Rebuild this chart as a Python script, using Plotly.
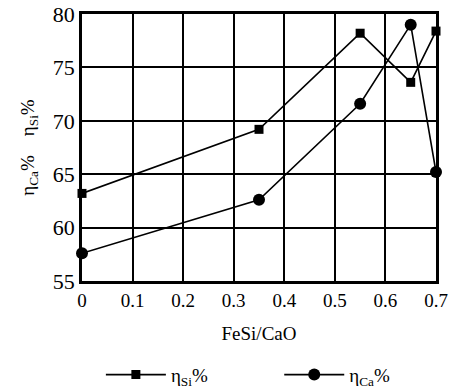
import plotly.graph_objects as go

x_si = [0, 0.35, 0.55, 0.65, 0.7]
y_si = [63.2, 69.2, 78.2, 73.6, 78.4]
x_ca = [0, 0.35, 0.55, 0.65, 0.7]
y_ca = [57.6, 62.6, 71.6, 79.0, 65.2]
x_ticks = [0, 0.1, 0.2, 0.3, 0.4, 0.5, 0.6, 0.7]
x_ticktext = ["0", "0.1", "0.2", "0.3", "0.4", "0.5", "0.6", "0.7"]
y_ticks = [55, 60, 65, 70, 75, 80]

serif = "Liberation Serif, Times New Roman, serif"
gap = "\u00a0" * 14

fig = go.Figure()
fig.add_trace(go.Scatter(
    x=x_si, y=y_si, mode="lines+markers", name="η<sub>Si</sub>%" + gap,
    line=dict(color="black", width=1.6),
    marker=dict(symbol="square", size=9, color="black"),
    cliponaxis=False,
))
fig.add_trace(go.Scatter(
    x=x_ca, y=y_ca, mode="lines+markers", name="η<sub>Ca</sub>%",
    line=dict(color="black", width=1.6),
    marker=dict(symbol="circle", size=12, color="black"),
    cliponaxis=False,
))

fig.update_layout(
    width=451, height=392,
    margin=dict(l=82, r=15, t=14, b=111, autoexpand=False),
    paper_bgcolor="white", plot_bgcolor="white",
    font=dict(family=serif, color="black", size=17),
    showlegend=True,
    legend=dict(orientation="h", x=0.47, xanchor="center", y=-0.28, yanchor="top",
                font=dict(family=serif, size=19), itemwidth=60,
                tracegroupgap=0, bgcolor="rgba(0,0,0,0)"),
)
fig.update_xaxes(
    range=[0, 0.7], tickvals=x_ticks, ticktext=x_ticktext,
    showgrid=True, gridcolor="black", gridwidth=1.8,
    showline=True, linecolor="black", linewidth=2.5, mirror=True,
    ticks="", zeroline=False,
    tickfont=dict(family=serif, size=19),
    title=dict(text="FeSi/CaO", font=dict(family=serif, size=19), standoff=18),
)
fig.update_yaxes(
    range=[55, 80], tickvals=y_ticks,
    showgrid=True, gridcolor="black", gridwidth=1.8,
    showline=True, linecolor="black", linewidth=2.5, mirror=True,
    ticks="", zeroline=False,
    tickfont=dict(family=serif, size=22),
    title=dict(text="η<sub>Ca</sub>%    η<sub>Si</sub>%", font=dict(family=serif, size=19), standoff=14),
)

fig.write_html("out.html")
